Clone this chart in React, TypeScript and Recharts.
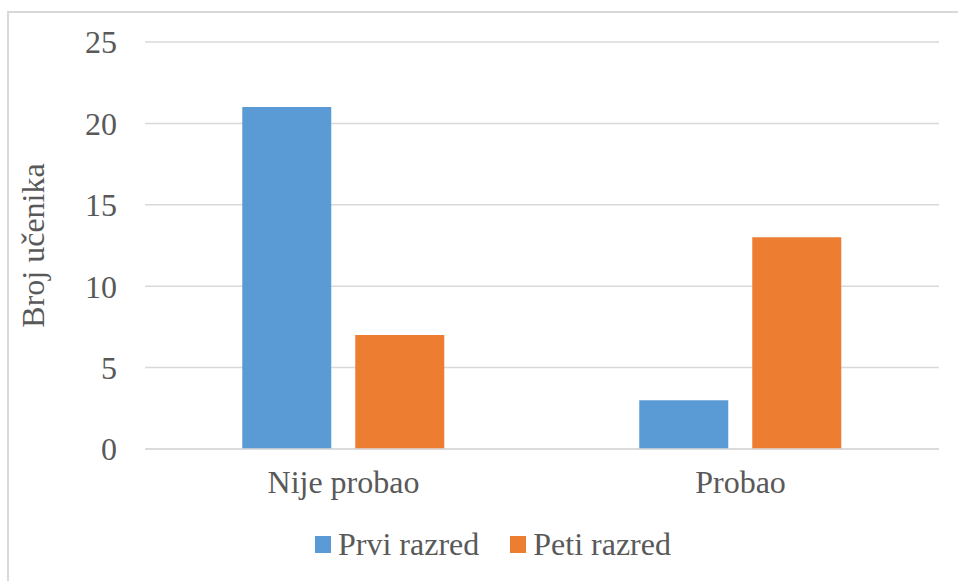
import React from 'react';
import { BarChart, Bar, XAxis, YAxis, CartesianGrid, Legend } from 'recharts';

const categories = ['Nije probao', 'Probao'];
const prviRazred = [21, 3];
const petiRazred = [7, 13];
const yTicks = [0, 5, 10, 15, 20, 25];
const seriesNames = ['Prvi razred', 'Peti razred'];

const data = categories.map((c, i) => ({
  name: c,
  prvi: prviRazred[i],
  peti: petiRazred[i],
}));

const FONT = '"Liberation Serif", "Times New Roman", serif';
const FS = 32;
const TEXT = '#595959';

const renderLegend = (props: any) => {
  const payload = [...(props.payload || [])].sort(
    (a: any, b: any) => seriesNames.indexOf(a.value) - seriesNames.indexOf(b.value)
  );
  return (
    <div style={{ display: 'flex', alignItems: 'center', fontFamily: FONT, fontSize: FS, color: TEXT, whiteSpace: 'nowrap' }}>
      {payload.map((p: any, i: number) => (
        <div key={i} style={{ display: 'flex', alignItems: 'center', marginRight: i === 0 ? 31 : 0 }}>
          <span style={{ display: 'inline-block', width: 16, height: 17, background: p.color, marginRight: 7 }} />
          <span>{p.value}</span>
        </div>
      ))}
    </div>
  );
};

const renderYLabel = (props: any) => {
  const vb = props.viewBox || {};
  const cy = (vb.y || 0) + (vb.height || 0) / 2;
  const cx = 44;
  return (
    <text x={cx} y={cy} transform={`rotate(-90, ${cx}, ${cy})`} textAnchor="middle" style={{ fontFamily: FONT }} fontSize={FS} fill={TEXT}>
      Broj učenika
    </text>
  );
};

export default function App() {
  return (
    <div style={{ position: 'absolute', left: 0, top: 0, width: 958, height: 581, background: '#fff', overflow: 'hidden', fontFamily: FONT }}>
      <div style={{ position: 'absolute', left: 7, top: 11, width: 951, height: 570, borderLeft: '2px solid #d9d9d9', borderTop: '2px solid #d9d9d9', boxSizing: 'border-box' }} />
      <BarChart
        width={958}
        height={581}
        data={data}
        margin={{ top: 42, right: 19, bottom: 72, left: 0 }}
        barCategoryGap="24.5%"
        barGap={24}
        style={{ position: 'absolute', left: 0, top: 0, fontFamily: FONT }}
      >
        <CartesianGrid vertical={false} stroke="#d9d9d9" strokeWidth={1.5} />
        <XAxis
          dataKey="name"
          height={60}
          tickLine={false}
          tickSize={0}
          tickMargin={21}
          axisLine={{ stroke: '#d9d9d9', strokeWidth: 1.5 }}
          tick={{ fontSize: FS, fill: TEXT, style: { fontFamily: FONT } }}
        />
        <YAxis
          width={145}
          domain={[0, 25]}
          ticks={yTicks}
          interval={0}
          tickLine={false}
          axisLine={false}
          tickSize={0}
          tickMargin={28}
          tick={{ fontSize: FS, fill: TEXT, style: { fontFamily: FONT } }}
          label={{ content: renderYLabel }}
        />
        <Legend
          layout="horizontal"
          verticalAlign="middle"
          align="center"
          content={renderLegend}
          wrapperStyle={{ left: 315, top: 526, width: 'auto' }}
        />
        <Bar dataKey="prvi" name={seriesNames[0]} fill="#5B9BD5" isAnimationActive={false} />
        <Bar dataKey="peti" name={seriesNames[1]} fill="#ED7D31" isAnimationActive={false} />
      </BarChart>
    </div>
  );
}
